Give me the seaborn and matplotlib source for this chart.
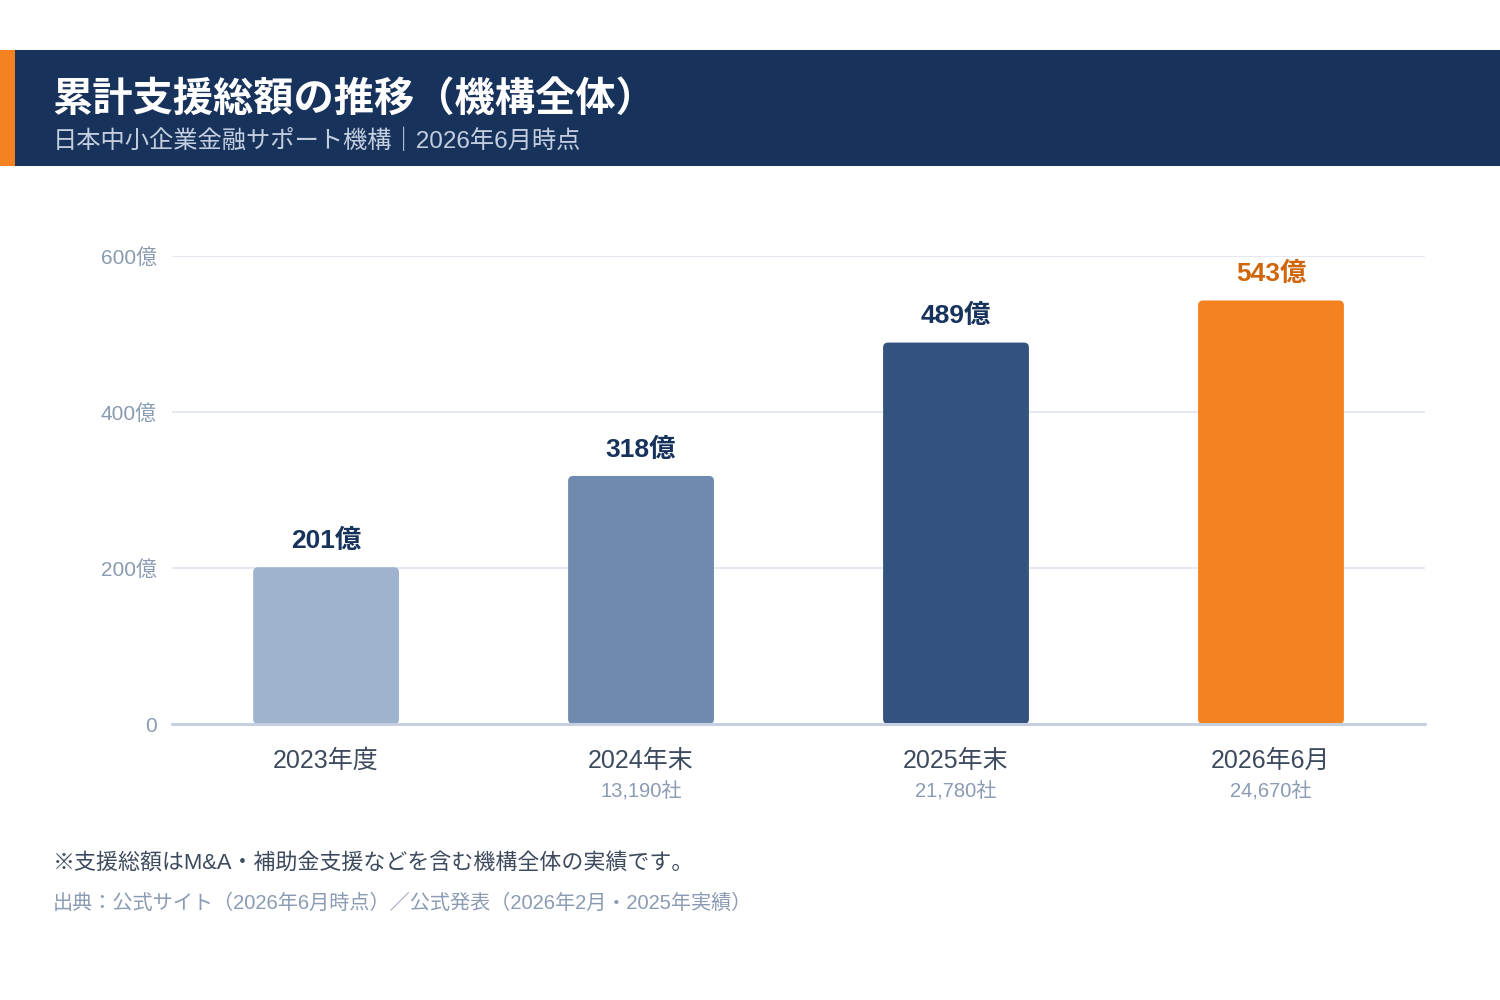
import matplotlib
matplotlib.use("Agg")
import matplotlib.pyplot as plt
import seaborn as sns
import pandas as pd
from matplotlib.patches import Rectangle, FancyBboxPatch

categories = ["2023年度", "2024年末", "2025年末", "2026年6月"]
values = [201, 318, 489, 543]
companies = ["", "13,190社", "21,780社", "24,670社"]
bar_colors = ["#9fb3ce", "#6f8aaf", "#34527e", "#f58220"]
label_colors = ["#17335c", "#17335c", "#17335c", "#d1650a"]
y_ticks = [0, 200, 400, 600]
y_tick_labels = ["0", "200億", "400億", "600億"]

title = "累計支援総額の推移（機構全体）"
subtitle = "日本中小企業金融サポート機構｜2026年6月時点"
note = "※支援総額はM&A・補助金支援などを含む機構全体の実績です。"
source = "出典：公式サイト（2026年6月時点）／公式発表（2026年2月・2025年実績）"

sns.set_theme(style="white")
FONTS = ["Liberation Sans", "Noto Sans CJK JP", "DejaVu Sans"]
plt.rcParams["font.family"] = FONTS

df = pd.DataFrame({"cat": categories, "val": values})

fig = plt.figure(figsize=(15, 10), dpi=100)
fig.patch.set_facecolor("white")

# header band
fig.add_artist(Rectangle((0, 0.834), 1, 0.116, transform=fig.transFigure,
                         facecolor="#18335b", edgecolor="none", zorder=0))
fig.add_artist(Rectangle((0, 0.834), 0.010, 0.116, transform=fig.transFigure,
                         facecolor="#f58220", edgecolor="none", zorder=1))
fig.text(0.035, 0.901, title, color="white", fontsize=29, fontweight="bold",
         va="center", ha="left")
fig.text(0.035, 0.859, subtitle, color="#c3cfe0", fontsize=17.5,
         va="center", ha="left")

ax = fig.add_axes([0.1147, 0.276, 0.8353, 0.468])
sns.barplot(data=df, x="cat", y="val", hue="cat", palette=bar_colors,
            legend=False, width=0.463, ax=ax, saturation=1)

ax.set_ylim(0, 600)
ax.set_xlim(-0.489, 3.489)

# rounded bars
for p in list(ax.patches):
    x0, y0 = p.get_x(), p.get_y()
    w, h = p.get_width(), p.get_height()
    fc = p.get_facecolor()
    p.remove()
    fb = FancyBboxPatch((x0, y0), w, h,
                        boxstyle="round,pad=0,rounding_size=0.016",
                        mutation_aspect=400, facecolor=fc, edgecolor="none",
                        zorder=3)
    ax.add_patch(fb)

# value labels
for i, v in enumerate(values):
    ax.annotate(f"{v}億", (i, v), xytext=(0, 19), textcoords="offset points",
                ha="center", va="center", fontsize=19, fontweight="bold",
                color=label_colors[i], annotation_clip=False)

ax.set_yticks(y_ticks)
ax.set_yticklabels(y_tick_labels)
ax.tick_params(axis="y", length=0, pad=11, labelsize=15, labelcolor="#8a9ab0")
ax.set_xticks(range(len(categories)))
ax.set_xticklabels(categories)
ax.tick_params(axis="x", length=0, pad=18, labelsize=18, labelcolor="#3d4a5e")
ax.set_xlabel("")
ax.set_ylabel("")

for t in y_ticks[1:]:
    ax.axhline(t, color="#e6e9f2", linewidth=1.5, zorder=1)
ax.axhline(0, color="#c5cfdf", linewidth=2.2, zorder=4, clip_on=False)

for s in ax.spines.values():
    s.set_visible(False)

# company counts below tick labels
for i, c in enumerate(companies):
    if c:
        ax.annotate(c, (i, 0), xytext=(0, -49), textcoords="offset points",
                    ha="center", va="center", fontsize=14.5, color="#8a9bb3",
                    annotation_clip=False)

fig.text(0.035, 0.136, note, color="#3d4a5e", fontsize=15.8, va="center", ha="left")
fig.text(0.035, 0.097, source, color="#8a9bb3", fontsize=14.5, va="center", ha="left")

fig.savefig("out.png", dpi=100, facecolor="white")
